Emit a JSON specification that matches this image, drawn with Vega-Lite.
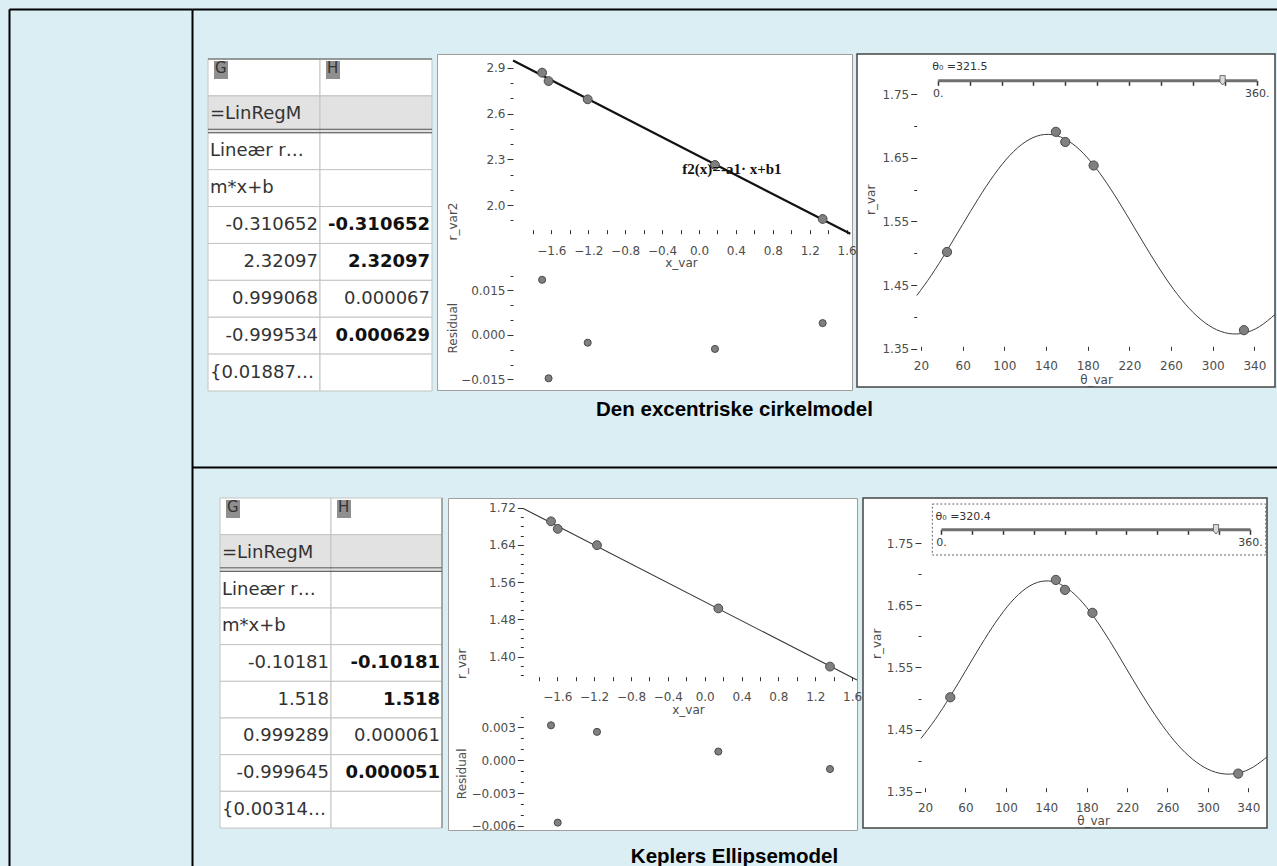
{
  "$schema": "https://vega.github.io/schema/vega-lite/v6.json",
  "background": "#DAEEF3",
  "padding": {"left": 9, "top": 9, "right": 0, "bottom": 0},
  "config": {
    "view": {"stroke": null},
    "axis": {"grid": false, "minExtent": 0, "labelFont": "DejaVu Sans", "titleFont": "DejaVu Sans"},
    "text": {"font": "DejaVu Sans"}
  },
  "spacing": 0,
  "hconcat": [
    {
      "width": 183, "height": 857,
      "data": {"values": [{"v": 0}]},
      "resolve": {"scale": {"y": "independent"}, "axis": {"y": "independent"}},
      "layer": [
        {"mark": {"type": "point", "opacity": 0},
         "encoding": {
           "x": {"field": "v", "type": "quantitative", "axis": {"orient": "top", "domainColor": "#000000", "domainWidth": 2, "ticks": false, "labels": false, "title": null}},
           "y": {"field": "v", "type": "quantitative", "axis": {"orient": "left", "domainColor": "#000000", "domainWidth": 2, "ticks": false, "labels": false, "title": null}}}},
        {"mark": {"type": "point", "opacity": 0},
         "encoding": {
           "y": {"field": "v", "type": "quantitative", "axis": {"orient": "right", "domainColor": "#000000", "domainWidth": 2, "ticks": false, "labels": false, "title": null}}}}
      ]
    },
    {
      "spacing": 0,
      "vconcat": [
        {"width": 1085, "height": 44, "data": {"values": [{"v": 0}]}, "mark": {"type": "point", "opacity": 0},
         "encoding": {"x": {"field": "v", "type": "quantitative", "axis": {"orient": "top", "domainColor": "#000000", "domainWidth": 2, "ticks": false, "labels": false, "title": null}}}},
        {
          "spacing": 5,
          "bounds": "flush",
          "hconcat": [
            {"width": 11, "height": 10, "data": {"values": [{}]}, "mark": {"type": "point", "opacity": 0}, "encoding": {}},
            {
              "width": 224, "height": 337,
              "data": {"values": [
                {"r": 0, "c": "G", "t": "G"}, {"r": 0, "c": "H", "t": "H"},
                {"r": 1, "c": "G", "t": "=LinRegM"}, {"r": 1, "c": "H", "t": ""},
                {"r": 2, "c": "G", "t": "Lineær r…"}, {"r": 2, "c": "H", "t": ""},
                {"r": 3, "c": "G", "t": "m*x+b"}, {"r": 3, "c": "H", "t": ""},
                {"r": 4, "c": "G", "t": "-0.310652"}, {"r": 4, "c": "H", "t": "-0.310652"},
                {"r": 5, "c": "G", "t": "2.32097"}, {"r": 5, "c": "H", "t": "2.32097"},
                {"r": 6, "c": "G", "t": "0.999068"}, {"r": 6, "c": "H", "t": "0.000067"},
                {"r": 7, "c": "G", "t": "-0.999534"}, {"r": 7, "c": "H", "t": "0.000629"},
                {"r": 8, "c": "G", "t": "{0.01887…"}, {"r": 8, "c": "H", "t": ""}
              ]},
              "layer": [
                {"mark": {"type": "rect", "stroke": "#C4C4C4", "strokeWidth": 1},
                 "encoding": {
                   "x": {"field": "c", "type": "nominal", "scale": {"domain": ["G", "H"], "paddingInner": 0, "paddingOuter": 0}, "axis": null},
                   "y": {"field": "r", "type": "ordinal", "scale": {"domain": [0, 1, 2, 3, 4, 5, 6, 7, 8], "paddingInner": 0, "paddingOuter": 0.0678, "align": 1}, "axis": null},
                   "fill": {"condition": {"test": "datum.r == 1", "value": "#E2E2E2"}, "value": "#FFFFFF"}}},
                {"transform": [{"filter": "datum.r == 0"}],
                 "mark": {"type": "point", "shape": "M-0.7,-0.9L0.7,-0.9L0.7,0.9L-0.7,0.9Z", "size": 400, "filled": true, "color": "#8F8F8F", "opacity": 1, "xOffset": 13, "yOffset": 11},
                 "encoding": {"x": {"field": "c", "type": "nominal", "bandPosition": 0}, "y": {"field": "r", "type": "ordinal", "bandPosition": 0}}},
                {"transform": [{"filter": "datum.r == 0"}],
                 "mark": {"type": "text", "align": "left", "baseline": "middle", "dx": 7, "dy": 9, "fontSize": 15, "color": "#333333"},
                 "encoding": {"x": {"field": "c", "type": "nominal", "bandPosition": 0}, "y": {"field": "r", "type": "ordinal", "bandPosition": 0}, "text": {"field": "t"}}},
                {"transform": [{"filter": "datum.c == 'G' && datum.r >= 1 && (datum.r <= 3 || datum.r == 8)"}],
                 "mark": {"type": "text", "align": "left", "baseline": "middle", "dx": 2, "fontSize": 18, "color": "#333333"},
                 "encoding": {"x": {"field": "c", "type": "nominal", "bandPosition": 0}, "y": {"field": "r", "type": "ordinal", "bandPosition": 0.5}, "text": {"field": "t"}}},
                {"transform": [{"filter": "datum.c == 'G' && datum.r >= 4 && datum.r <= 7"}],
                 "mark": {"type": "text", "align": "right", "baseline": "middle", "dx": -2, "fontSize": 18, "color": "#333333"},
                 "encoding": {"x": {"field": "c", "type": "nominal", "bandPosition": 1}, "y": {"field": "r", "type": "ordinal", "bandPosition": 0.5}, "text": {"field": "t"}}},
                {"transform": [{"filter": "datum.c == 'H' && (datum.r == 4 || datum.r == 5 || datum.r == 7)"}],
                 "mark": {"type": "text", "align": "right", "baseline": "middle", "dx": -2, "fontSize": 18, "fontWeight": "bold", "color": "#111111"},
                 "encoding": {"x": {"field": "c", "type": "nominal", "bandPosition": 1}, "y": {"field": "r", "type": "ordinal", "bandPosition": 0.5}, "text": {"field": "t"}}},
                {"transform": [{"filter": "datum.c == 'H' && datum.r == 6"}],
                 "mark": {"type": "text", "align": "right", "baseline": "middle", "dx": -2, "fontSize": 18, "color": "#333333"},
                 "encoding": {"x": {"field": "c", "type": "nominal", "bandPosition": 1}, "y": {"field": "r", "type": "ordinal", "bandPosition": 0.5}, "text": {"field": "t"}}},
                {"transform": [{"filter": "datum.r == 2 && datum.c == 'G'"}],
                 "mark": {"type": "rule", "color": "#555555", "strokeWidth": 1, "yOffset": -3.5},
                 "encoding": {"y": {"field": "r", "type": "ordinal", "bandPosition": 0}}},
                {"transform": [{"filter": "datum.r == 2 && datum.c == 'G'"}],
                 "mark": {"type": "rule", "color": "#555555", "strokeWidth": 1},
                 "encoding": {"y": {"field": "r", "type": "ordinal", "bandPosition": 0}}},
                {"transform": [{"filter": "datum.r == 0 && datum.c == 'G'"}],
                 "mark": {"type": "rule", "color": "#555555", "strokeWidth": 1},
                 "encoding": {"y": {"field": "r", "type": "ordinal", "bandPosition": 0}}}
              ]
            },
            {
              "width": 415, "height": 336,
              "view": {"fill": "#FFFFFF", "stroke": "#9E9E9E", "strokeWidth": 1},
              "resolve": {"scale": {"x": "independent", "y": "independent"}, "axis": {"x": "independent", "y": "independent"}},
              "layer": [
                {
                  "data": {"values": [{"x": -1.70, "y": 2.8677}, {"x": -1.63, "y": 2.8127}, {"x": -1.206, "y": 2.6930}, {"x": 0.173, "y": 2.2625}, {"x": 1.34, "y": 1.9087}]},
                  "encoding": {
                    "x": {"field": "x", "type": "quantitative", "scale": {"domain": [-2.839, 1.658], "nice": false, "zero": false}},
                    "y": {"field": "y", "type": "quantitative", "scale": {"domain": [0.788, 2.990], "nice": false, "zero": false}}
                  },
                  "layer": [
                    {"data": {"values": [{}]}, "mark": {"type": "rule", "color": "#2E2E2E", "strokeWidth": 1.5},
                     "encoding": {"x": {"datum": -2.839}, "x2": {"datum": 1.658}, "y": {"datum": 2.987}}},
                    {"data": {"values": [{}]}, "mark": {"type": "rule", "color": "#9A9A9A", "strokeWidth": 1},
                     "encoding": {"x": {"datum": 0}, "y": {"datum": 1.812}, "y2": {"datum": 2.957}}},
                    {"data": {"values": [{}]}, "mark": {"type": "rule", "color": "#333333", "strokeWidth": 1},
                     "encoding": {"x": {"datum": -2.015}, "y": {"datum": 1.812}, "y2": {"datum": 2.957}}},
                    {"data": {"values": [{}]}, "mark": {"type": "rule", "color": "#333333", "strokeWidth": 1},
                     "encoding": {"x": {"datum": -2.015}, "x2": {"datum": 1.658}, "y": {"datum": 1.812}}},
                    {"data": {"values": [{"x": -2.015, "y": 2.947}, {"x": 1.64, "y": 1.8115}]},
                     "mark": {"type": "line", "color": "#111111", "strokeWidth": 2.2}},
                    {"mark": {"type": "circle", "size": 78, "color": "#808080", "opacity": 1, "stroke": "#4A4A4A", "strokeWidth": 1},
                     "encoding": {
                       "x": {"field": "x", "type": "quantitative", "scale": {"domain": [-2.839, 1.658], "nice": false, "zero": false},
                             "axis": {"orient": "bottom", "offset": -156.3, "values": [-1.6, -1.2, -0.8, -0.4, 0, 0.4, 0.8, 1.2, 1.6],
                                      "format": ".1f", "domain": false, "tickSize": -4, "tickColor": "#333333", "labelColor": "#4D4D4D", "labelFontSize": 12, "labelPadding": 16,
                                      "labelFlush": false, "labelOverlap": false, "labelBound": false,
                                      "title": "x_var", "titleX": 244, "titleY": 29, "titleBaseline": "middle", "titleAlign": "center", "titleFontSize": 12, "titleFontWeight": "normal", "titleColor": "#4D4D4D"}},
                       "y": {"field": "y", "type": "quantitative", "scale": {"domain": [0.788, 2.990], "nice": false, "zero": false},
                             "axis": {"orient": "left", "offset": -76, "values": [2, 2.3, 2.6, 2.9],
                                      "format": ".1f", "domain": false, "tickSize": 6,
                                      "tickColor": "#333333", "labelColor": "#4D4D4D", "labelFontSize": 12, "labelPadding": 2, "labelOverlap": false, "labelFlush": false,
                                      "title": "r_var2", "titleX": -61, "titleY": 167, "titleAngle": 270, "titleBaseline": "middle", "titleAlign": "center", "titleFontSize": 12, "titleFontWeight": "normal", "titleColor": "#4D4D4D"}}
                     }},
                    {"data": {"values": [{"x": 0.357, "y": 2.236, "label": "f2(x)=-a1· x+b1"}]},
                     "mark": {"type": "text", "font": "Liberation Serif", "fontWeight": "bold", "fontSize": 15, "color": "#111111", "align": "center", "baseline": "middle"},
                     "encoding": {"x": {"field": "x", "type": "quantitative"}, "y": {"field": "y", "type": "quantitative"}, "text": {"field": "label", "type": "nominal"}}}
                  ]
                },
                {
                  "data": {"values": [{"x": -1.70, "y": 0.0186}, {"x": -1.63, "y": -0.0146}, {"x": -1.206, "y": -0.0026}, {"x": 0.173, "y": -0.0047}, {"x": 1.34, "y": 0.0040}]},
                  "encoding": {
                    "x": {"field": "x", "type": "quantitative", "scale": {"domain": [-2.839, 1.658], "nice": false, "zero": false}, "axis": null},
                    "y": {"field": "y", "type": "quantitative", "scale": {"domain": [-0.01854, 0.0947], "nice": false, "zero": false}}
                  },
                  "layer": [
                    {"data": {"values": [{}]}, "mark": {"type": "rule", "color": "#9A9A9A", "strokeWidth": 1},
                     "encoding": {"x": {"datum": 0, "axis": null}, "y": {"datum": -0.01854}, "y2": {"datum": 0.0227}}},
                    {"data": {"values": [{}]}, "mark": {"type": "rule", "color": "#A8A8A8", "strokeWidth": 1.5},
                     "encoding": {"x": {"datum": -2.015, "axis": null}, "x2": {"datum": 1.658}, "y": {"datum": 0}}},
                    {"data": {"values": [{}]}, "mark": {"type": "rule", "color": "#333333", "strokeWidth": 1},
                     "encoding": {"x": {"datum": -2.015, "axis": null}, "y": {"datum": -0.01854}, "y2": {"datum": 0.0227}}},
                    {"mark": {"type": "circle", "size": 50, "color": "#808080", "opacity": 1, "stroke": "#4A4A4A", "strokeWidth": 1},
                     "encoding": {
                       "x": {"field": "x", "type": "quantitative", "axis": null},
                       "y": {"field": "y", "type": "quantitative", "scale": {"domain": [-0.01854, 0.0947], "nice": false, "zero": false},
                             "axis": {"orient": "left", "offset": -76, "values": [-0.015, 0, 0.015],
                                      "format": ".3f", "domain": false, "tickSize": 6,
                                      "tickColor": "#333333", "labelColor": "#4D4D4D", "labelFontSize": 12, "labelPadding": 2, "labelOverlap": false, "labelFlush": false,
                                      "title": "Residual", "titleX": -61, "titleY": 273.7, "titleAngle": 270, "titleBaseline": "middle", "titleAlign": "center", "titleFontSize": 12, "titleFontWeight": "normal", "titleColor": "#4D4D4D"}}
                     }}
                  ]
                },
                {
                  "data": {"values": [{}]},
                  "mark": {"type": "point", "opacity": 0},
                  "encoding": {
                    "x": {"datum": 0, "scale": {"domain": [-2.839, 1.658], "nice": false, "zero": false},
                          "axis": {"orient": "bottom", "offset": -156.3, "values": [-1.8, -1.4, -1, -0.6, -0.2, 0.2, 0.6, 1, 1.4], "labels": false, "domain": false, "tickSize": -4, "tickColor": "#333333", "title": null}},
                    "y": {"datum": 2, "scale": {"domain": [0.788, 2.990], "nice": false, "zero": false},
                          "axis": {"orient": "left", "offset": -76, "values": [1.9, 2.1, 2.2, 2.4, 2.5, 2.7, 2.8], "labels": false, "domain": false, "tickSize": 3, "tickColor": "#333333", "title": null}}
                  }
                },
                {
                  "data": {"values": [{}]},
                  "mark": {"type": "point", "opacity": 0},
                  "encoding": {
                    "x": {"datum": 0, "scale": {"domain": [-2.839, 1.658], "nice": false, "zero": false}, "axis": null},
                    "y": {"datum": 0, "scale": {"domain": [-0.01854, 0.0947], "nice": false, "zero": false},
                          "axis": {"orient": "left", "offset": -76, "values": [-0.01, -0.005, 0.005, 0.01, 0.02], "labels": false, "domain": false, "tickSize": 3, "tickColor": "#333333", "title": null}}
                  }
                }
              ]
            },
            {
              "width": 418, "height": 333,
              "view": {"fill": "#FFFFFF", "stroke": "#444444", "strokeWidth": 1.5},
              "resolve": {"scale": {"x": "independent"}, "axis": {"x": "independent"}},
              "layer": [
                {
                  "data": {"values": [{"x": 45, "y": 1.502}, {"x": 149.5, "y": 1.691}, {"x": 158.5, "y": 1.675}, {"x": 185.7, "y": 1.638}, {"x": 330, "y": 1.379}]},
                  "encoding": {
                    "x": {"field": "x", "type": "quantitative", "scale": {"domain": [-41.4, 359.8], "nice": false, "zero": false}},
                    "y": {"field": "y", "type": "quantitative", "scale": {"domain": [1.2896, 1.8134], "nice": false, "zero": false}}
                  },
                  "layer": [
                    {"data": {"values": [{}]}, "mark": {"type": "rule", "color": "#333333", "strokeWidth": 1},
                     "encoding": {"x": {"datum": 15.9}, "y": {"datum": 1.3474}, "y2": {"datum": 1.802}}},
                    {"data": {"values": [{}]}, "mark": {"type": "rule", "color": "#333333", "strokeWidth": 1},
                     "encoding": {"x": {"datum": 15.9}, "x2": {"datum": 359.8}, "y": {"datum": 1.3474}}},
                    {"data": {"values": [
                      {"x": 16, "y": 1.4335}, {"x": 30, "y": 1.4655}, {"x": 45, "y": 1.5043}, {"x": 60, "y": 1.5453}, {"x": 75, "y": 1.5858},
                      {"x": 90, "y": 1.6228}, {"x": 105, "y": 1.6534}, {"x": 120, "y": 1.6750}, {"x": 135, "y": 1.6859}, {"x": 150, "y": 1.6851},
                      {"x": 165, "y": 1.6727}, {"x": 180, "y": 1.6498}, {"x": 195, "y": 1.6182}, {"x": 210, "y": 1.5806}, {"x": 225, "y": 1.5398},
                      {"x": 240, "y": 1.4989}, {"x": 255, "y": 1.4606}, {"x": 270, "y": 1.4273}, {"x": 285, "y": 1.4009}, {"x": 300, "y": 1.3828},
                      {"x": 315, "y": 1.3739}, {"x": 330, "y": 1.3745}, {"x": 345, "y": 1.3847}, {"x": 360, "y": 1.4040}
                    ]},
                     "mark": {"type": "line", "color": "#3C3C3C", "strokeWidth": 1, "interpolate": "natural", "clip": true}},
                    {"mark": {"type": "circle", "size": 85, "color": "#808080", "opacity": 1, "stroke": "#4A4A4A", "strokeWidth": 1},
                     "encoding": {
                       "x": {"field": "x", "type": "quantitative", "scale": {"domain": [-41.4, 359.8], "nice": false, "zero": false},
                             "axis": {"orient": "bottom", "offset": -36.7, "values": [20, 40, 60, 80, 100, 120, 140, 160, 180, 200, 220, 240, 260, 280, 300, 320, 340],
                                      "labelExpr": "(round(datum.value) - 20) % 40 == 0 ? datum.label : ''",
                                      "domain": false, "tickSize": -4, "tickColor": "#333333", "labelColor": "#4D4D4D", "labelFontSize": 12, "labelPadding": 14,
                                      "labelFlush": false, "labelOverlap": false, "labelBound": false,
                                      "title": "θ_var", "titleX": 239, "titleY": 29.5, "titleBaseline": "middle", "titleAlign": "center", "titleFontSize": 12, "titleFontWeight": "normal", "titleColor": "#4D4D4D"}},
                       "y": {"field": "y", "type": "quantitative", "scale": {"domain": [1.2896, 1.8134], "nice": false, "zero": false},
                             "axis": {"orient": "left", "offset": -59.7, "values": [1.35, 1.4, 1.45, 1.5, 1.55, 1.6, 1.65, 1.7, 1.75],
                                      "format": ".2f", "labelExpr": "round(datum.value*100) % 10 == 5 ? datum.label : ''",
                                      "domain": false, "tickSize": {"condition": {"test": "round(datum.value*100) % 10 == 5", "value": 6}, "value": 3},
                                      "tickColor": "#333333", "labelColor": "#4D4D4D", "labelFontSize": 12, "labelPadding": 2, "labelOverlap": false, "labelFlush": false,
                                      "title": "r_var", "titleX": -46.7, "titleY": 145.3, "titleAngle": 270, "titleBaseline": "middle", "titleAlign": "center", "titleFontSize": 12, "titleFontWeight": "normal", "titleColor": "#4D4D4D"}}
                     }}
                  ]
                },
                {
                  "data": {"values": [{"s": 321.5}]},
                  "mark": {"type": "point", "shape": "M-0.55,-1L0.55,-1L0.55,0.35L0,1L-0.55,0.35Z", "size": 90, "filled": true, "fill": "#DADADA", "stroke": "#505050", "strokeWidth": 0.8, "opacity": 1},
                  "encoding": {
                    "x": {"field": "s", "type": "quantitative", "scale": {"domain": [0, 360], "range": [80.7, 399.7], "nice": false, "zero": false},
                          "axis": {"orient": "bottom", "offset": -306.7, "values": [0, 36, 72, 108, 144, 180, 216, 252, 288, 324, 360],
                                   "labelExpr": "datum.value == 0 ? '0.' : (datum.value == 360 ? '360.' : '')",
                                   "domain": true, "domainColor": "#707070", "domainWidth": 3, "tickColor": "#333333", "tickSize": 5, "tickWidth": 1.5,
                                   "labelFontSize": 11, "labelColor": "#404040", "labelPadding": 2, "labelFlush": false, "labelOverlap": false, "labelBound": false,
                                   "title": "θ₀ =321.5", "titleX": 74.7, "titleY": -14.3, "titleAlign": "left", "titleAnchor": "start", "titleBaseline": "middle", "titleFontSize": 11, "titleFontWeight": "normal", "titleColor": "#333333"}},
                    "y": {"datum": 1.772}
                  }
                }
              ]
            }
          ]
        },
        {"width": 1085, "height": 75, "data": {"values": [{"caption": "Den excentriske cirkelmodel"}]},
         "mark": {"type": "text", "font": "Liberation Sans", "fontWeight": "bold", "fontSize": 20.5, "color": "#000000", "dy": -20},
         "encoding": {"text": {"field": "caption"}}},
        {"width": 1085, "height": 30, "data": {"values": [{"v": 0}]}, "mark": {"type": "point", "opacity": 0},
         "encoding": {"x": {"field": "v", "type": "quantitative", "axis": {"orient": "top", "domainColor": "#000000", "domainWidth": 2, "ticks": false, "labels": false, "title": null}}}},
        {
          "spacing": 6,
          "bounds": "flush",
          "hconcat": [
            {"width": 22, "height": 10, "data": {"values": [{}]}, "mark": {"type": "point", "opacity": 0}, "encoding": {}},
            {
              "width": 222, "height": 330,
              "data": {"values": [
                {"r": 0, "c": "G", "t": "G"}, {"r": 0, "c": "H", "t": "H"},
                {"r": 1, "c": "G", "t": "=LinRegM"}, {"r": 1, "c": "H", "t": ""},
                {"r": 2, "c": "G", "t": "Lineær r…"}, {"r": 2, "c": "H", "t": ""},
                {"r": 3, "c": "G", "t": "m*x+b"}, {"r": 3, "c": "H", "t": ""},
                {"r": 4, "c": "G", "t": "-0.10181"}, {"r": 4, "c": "H", "t": "-0.10181"},
                {"r": 5, "c": "G", "t": "1.518"}, {"r": 5, "c": "H", "t": "1.518"},
                {"r": 6, "c": "G", "t": "0.999289"}, {"r": 6, "c": "H", "t": "0.000061"},
                {"r": 7, "c": "G", "t": "-0.999645"}, {"r": 7, "c": "H", "t": "0.000051"},
                {"r": 8, "c": "G", "t": "{0.00314…"}, {"r": 8, "c": "H", "t": ""}
              ]},
              "layer": [
                {"mark": {"type": "rect", "stroke": "#C4C4C4", "strokeWidth": 1},
                 "encoding": {
                   "x": {"field": "c", "type": "nominal", "scale": {"domain": ["G", "H"], "paddingInner": 0, "paddingOuter": 0}, "axis": null},
                   "y": {"field": "r", "type": "ordinal", "scale": {"domain": [0, 1, 2, 3, 4, 5, 6, 7, 8], "paddingInner": 0, "paddingOuter": 0}, "axis": null},
                   "fill": {"condition": {"test": "datum.r == 1", "value": "#E2E2E2"}, "value": "#FFFFFF"}}},
                {"transform": [{"filter": "datum.r == 0"}],
                 "mark": {"type": "point", "shape": "M-0.7,-0.9L0.7,-0.9L0.7,0.9L-0.7,0.9Z", "size": 400, "filled": true, "color": "#8F8F8F", "opacity": 1, "xOffset": 13, "yOffset": 11},
                 "encoding": {"x": {"field": "c", "type": "nominal", "bandPosition": 0}, "y": {"field": "r", "type": "ordinal", "bandPosition": 0}}},
                {"transform": [{"filter": "datum.r == 0"}],
                 "mark": {"type": "text", "align": "left", "baseline": "middle", "dx": 7, "dy": 9, "fontSize": 15, "color": "#333333"},
                 "encoding": {"x": {"field": "c", "type": "nominal", "bandPosition": 0}, "y": {"field": "r", "type": "ordinal", "bandPosition": 0}, "text": {"field": "t"}}},
                {"transform": [{"filter": "datum.c == 'G' && datum.r >= 1 && (datum.r <= 3 || datum.r == 8)"}],
                 "mark": {"type": "text", "align": "left", "baseline": "middle", "dx": 2, "fontSize": 18, "color": "#333333"},
                 "encoding": {"x": {"field": "c", "type": "nominal", "bandPosition": 0}, "y": {"field": "r", "type": "ordinal", "bandPosition": 0.5}, "text": {"field": "t"}}},
                {"transform": [{"filter": "datum.c == 'G' && datum.r >= 4 && datum.r <= 7"}],
                 "mark": {"type": "text", "align": "right", "baseline": "middle", "dx": -2, "fontSize": 18, "color": "#333333"},
                 "encoding": {"x": {"field": "c", "type": "nominal", "bandPosition": 1}, "y": {"field": "r", "type": "ordinal", "bandPosition": 0.5}, "text": {"field": "t"}}},
                {"transform": [{"filter": "datum.c == 'H' && (datum.r == 4 || datum.r == 5 || datum.r == 7)"}],
                 "mark": {"type": "text", "align": "right", "baseline": "middle", "dx": -2, "fontSize": 18, "fontWeight": "bold", "color": "#111111"},
                 "encoding": {"x": {"field": "c", "type": "nominal", "bandPosition": 1}, "y": {"field": "r", "type": "ordinal", "bandPosition": 0.5}, "text": {"field": "t"}}},
                {"transform": [{"filter": "datum.c == 'H' && datum.r == 6"}],
                 "mark": {"type": "text", "align": "right", "baseline": "middle", "dx": -2, "fontSize": 18, "color": "#333333"},
                 "encoding": {"x": {"field": "c", "type": "nominal", "bandPosition": 1}, "y": {"field": "r", "type": "ordinal", "bandPosition": 0.5}, "text": {"field": "t"}}},
                {"transform": [{"filter": "datum.r == 2 && datum.c == 'G'"}],
                 "mark": {"type": "rule", "color": "#555555", "strokeWidth": 1, "yOffset": -3.5},
                 "encoding": {"y": {"field": "r", "type": "ordinal", "bandPosition": 0}}},
                {"transform": [{"filter": "datum.r == 2 && datum.c == 'G'"}],
                 "mark": {"type": "rule", "color": "#555555", "strokeWidth": 1},
                 "encoding": {"y": {"field": "r", "type": "ordinal", "bandPosition": 0}}},
                {"transform": [{"filter": "datum.r == 0 && datum.c == 'H'"}],
                 "mark": {"type": "rule", "color": "#707070", "strokeWidth": 1},
                 "encoding": {"x": {"field": "c", "type": "nominal", "bandPosition": 1}}}
              ]
            },
            {
              "width": 409, "height": 332,
              "view": {"fill": "#FFFFFF", "stroke": "#9E9E9E", "strokeWidth": 1},
              "resolve": {"scale": {"x": "independent", "y": "independent"}, "axis": {"x": "independent", "y": "independent"}},
              "layer": [
                {
                  "data": {"values": [{"x": -1.668, "y": 1.6909}, {"x": -1.595, "y": 1.6747}, {"x": -1.169, "y": 1.6396}, {"x": 0.148, "y": 1.5037}, {"x": 1.36, "y": 1.3787}]},
                  "encoding": {
                    "x": {"field": "x", "type": "quantitative", "scale": {"domain": [-2.786, 1.653], "nice": false, "zero": false}},
                    "y": {"field": "y", "type": "quantitative", "scale": {"domain": [1.0275, 1.741], "nice": false, "zero": false}}
                  },
                  "layer": [
                    {"data": {"values": [{}]}, "mark": {"type": "rule", "color": "#2E2E2E", "strokeWidth": 1.5},
                     "encoding": {"x": {"datum": -2.786}, "x2": {"datum": 1.653}, "y": {"datum": 1.7330}}},
                    {"data": {"values": [{}]}, "mark": {"type": "rule", "color": "#9A9A9A", "strokeWidth": 1},
                     "encoding": {"x": {"datum": 0}, "y": {"datum": 1.3484}, "y2": {"datum": 1.725}}},
                    {"data": {"values": [{}]}, "mark": {"type": "rule", "color": "#333333", "strokeWidth": 1},
                     "encoding": {"x": {"datum": -1.969}, "y": {"datum": 1.3484}, "y2": {"datum": 1.725}}},
                    {"data": {"values": [{}]}, "mark": {"type": "rule", "color": "#333333", "strokeWidth": 1},
                     "encoding": {"x": {"datum": -1.969}, "x2": {"datum": 1.653}, "y": {"datum": 1.3484}}},
                    {"data": {"values": [{"x": -1.969, "y": 1.7185}, {"x": 1.653, "y": 1.3497}]},
                     "mark": {"type": "line", "color": "#333333", "strokeWidth": 1.1}},
                    {"mark": {"type": "circle", "size": 78, "color": "#808080", "opacity": 1, "stroke": "#4A4A4A", "strokeWidth": 1},
                     "encoding": {
                       "x": {"field": "x", "type": "quantitative", "scale": {"domain": [-2.786, 1.653], "nice": false, "zero": false},
                             "axis": {"orient": "bottom", "offset": -149.3, "values": [-1.6, -1.2, -0.8, -0.4, 0, 0.4, 0.8, 1.2, 1.6],
                                      "format": ".1f", "domain": false, "tickSize": -4, "tickColor": "#333333", "labelColor": "#4D4D4D", "labelFontSize": 12, "labelPadding": 15,
                                      "labelFlush": false, "labelOverlap": false, "labelBound": false,
                                      "title": "x_var", "titleX": 240, "titleY": 29, "titleBaseline": "middle", "titleAlign": "center", "titleFontSize": 12, "titleFontWeight": "normal", "titleColor": "#4D4D4D"}},
                       "y": {"field": "y", "type": "quantitative", "scale": {"domain": [1.0275, 1.741], "nice": false, "zero": false},
                             "axis": {"orient": "left", "offset": -75.3, "values": [1.4, 1.48, 1.56, 1.64, 1.72],
                                      "format": ".2f", "domain": false, "tickSize": 6,
                                      "tickColor": "#333333", "labelColor": "#4D4D4D", "labelFontSize": 12, "labelPadding": 2, "labelOverlap": false, "labelFlush": false,
                                      "title": "r_var", "titleX": -62.3, "titleY": 165.3, "titleAngle": 270, "titleBaseline": "middle", "titleAlign": "center", "titleFontSize": 12, "titleFontWeight": "normal", "titleColor": "#4D4D4D"}}
                     }}
                  ]
                },
                {
                  "data": {"values": [{"x": -1.668, "y": 0.0032}, {"x": -1.595, "y": -0.0057}, {"x": -1.169, "y": 0.0026}, {"x": 0.148, "y": 0.0008}, {"x": 1.36, "y": -0.0008}]},
                  "encoding": {
                    "x": {"field": "x", "type": "quantitative", "scale": {"domain": [-2.786, 1.653], "nice": false, "zero": false}, "axis": null},
                    "y": {"field": "y", "type": "quantitative", "scale": {"domain": [-0.006375, 0.02399], "nice": false, "zero": false}}
                  },
                  "layer": [
                    {"data": {"values": [{}]}, "mark": {"type": "rule", "color": "#9A9A9A", "strokeWidth": 1},
                     "encoding": {"x": {"datum": 0, "axis": null}, "y": {"datum": -0.006375}, "y2": {"datum": 0.0049}}},
                    {"data": {"values": [{}]}, "mark": {"type": "rule", "color": "#A8A8A8", "strokeWidth": 1.5},
                     "encoding": {"x": {"datum": -1.969, "axis": null}, "x2": {"datum": 1.653}, "y": {"datum": 0}}},
                    {"data": {"values": [{}]}, "mark": {"type": "rule", "color": "#333333", "strokeWidth": 1},
                     "encoding": {"x": {"datum": -1.969, "axis": null}, "y": {"datum": -0.006375}, "y2": {"datum": 0.0049}}},
                    {"mark": {"type": "circle", "size": 50, "color": "#808080", "opacity": 1, "stroke": "#4A4A4A", "strokeWidth": 1},
                     "encoding": {
                       "x": {"field": "x", "type": "quantitative", "axis": null},
                       "y": {"field": "y", "type": "quantitative", "scale": {"domain": [-0.006375, 0.02399], "nice": false, "zero": false},
                             "axis": {"orient": "left", "offset": -75.3, "values": [-0.006, -0.003, 0, 0.003],
                                      "format": ".3f", "domain": false, "tickSize": 6,
                                      "tickColor": "#333333", "labelColor": "#4D4D4D", "labelFontSize": 12, "labelPadding": 2, "labelOverlap": false, "labelFlush": false,
                                      "title": "Residual", "titleX": -62.3, "titleY": 275.3, "titleAngle": 270, "titleBaseline": "middle", "titleAlign": "center", "titleFontSize": 12, "titleFontWeight": "normal", "titleColor": "#4D4D4D"}}
                     }}
                  ]
                },
                {
                  "data": {"values": [{}]},
                  "mark": {"type": "point", "opacity": 0},
                  "encoding": {
                    "x": {"datum": 0, "scale": {"domain": [-2.786, 1.653], "nice": false, "zero": false},
                          "axis": {"orient": "bottom", "offset": -149.3, "values": [-1.8, -1.4, -1, -0.6, -0.2, 0.2, 0.6, 1, 1.4], "labels": false, "domain": false, "tickSize": -4, "tickColor": "#333333", "title": null}},
                    "y": {"datum": 1.4, "scale": {"domain": [1.0275, 1.741], "nice": false, "zero": false},
                          "axis": {"orient": "left", "offset": -75.3, "values": [1.36, 1.38, 1.42, 1.44, 1.46, 1.5, 1.52, 1.54, 1.58, 1.6, 1.62, 1.66, 1.68, 1.7], "labels": false, "domain": false, "tickSize": 3, "tickColor": "#333333", "title": null}}
                  }
                },
                {
                  "data": {"values": [{}]},
                  "mark": {"type": "point", "opacity": 0},
                  "encoding": {
                    "x": {"datum": 0, "scale": {"domain": [-2.786, 1.653], "nice": false, "zero": false}, "axis": null},
                    "y": {"datum": 0, "scale": {"domain": [-0.006375, 0.02399], "nice": false, "zero": false},
                          "axis": {"orient": "left", "offset": -75.3, "values": [-0.005, -0.004, -0.002, -0.001, 0.001, 0.002, 0.004], "labels": false, "domain": false, "tickSize": 3, "tickColor": "#333333", "title": null}}
                  }
                }
              ]
            },
            {
              "width": 404, "height": 330,
              "view": {"fill": "#FFFFFF", "stroke": "#444444", "strokeWidth": 1.5},
              "resolve": {"scale": {"x": "independent"}, "axis": {"x": "independent"}},
              "layer": [
                {
                  "data": {"values": [{"x": 45, "y": 1.502}, {"x": 149.5, "y": 1.691}, {"x": 158.5, "y": 1.675}, {"x": 185.7, "y": 1.638}, {"x": 330, "y": 1.379}]},
                  "encoding": {
                    "x": {"field": "x", "type": "quantitative", "scale": {"domain": [-41.4, 358.5], "nice": false, "zero": false}},
                    "y": {"field": "y", "type": "quantitative", "scale": {"domain": [1.2914, 1.8230], "nice": false, "zero": false}}
                  },
                  "layer": [
                    {"data": {"values": [{}]}, "mark": {"type": "rule", "color": "#333333", "strokeWidth": 1},
                     "encoding": {"x": {"datum": 16.04}, "y": {"datum": 1.3499}, "y2": {"datum": 1.8144}}},
                    {"data": {"values": [{}]}, "mark": {"type": "rule", "color": "#333333", "strokeWidth": 1},
                     "encoding": {"x": {"datum": 16.04}, "x2": {"datum": 358.5}, "y": {"datum": 1.3499}}},
                    {"data": {"values": [
                      {"x": 16, "y": 1.4357}, {"x": 30, "y": 1.4661}, {"x": 45, "y": 1.5036}, {"x": 60, "y": 1.5441}, {"x": 75, "y": 1.5850},
                      {"x": 90, "y": 1.6230}, {"x": 105, "y": 1.6549}, {"x": 120, "y": 1.6776}, {"x": 135, "y": 1.6886}, {"x": 150, "y": 1.6868},
                      {"x": 165, "y": 1.6723}, {"x": 180, "y": 1.6468}, {"x": 195, "y": 1.6128}, {"x": 210, "y": 1.5737}, {"x": 225, "y": 1.5326},
                      {"x": 240, "y": 1.4927}, {"x": 255, "y": 1.4565}, {"x": 270, "y": 1.4257}, {"x": 285, "y": 1.4020}, {"x": 300, "y": 1.3861},
                      {"x": 315, "y": 1.3787}, {"x": 330, "y": 1.3799}, {"x": 345, "y": 1.3897}, {"x": 360, "y": 1.4079}
                    ]},
                     "mark": {"type": "line", "color": "#3C3C3C", "strokeWidth": 1, "interpolate": "natural", "clip": true}},
                    {"mark": {"type": "circle", "size": 85, "color": "#808080", "opacity": 1, "stroke": "#4A4A4A", "strokeWidth": 1},
                     "encoding": {
                       "x": {"field": "x", "type": "quantitative", "scale": {"domain": [-41.4, 358.5], "nice": false, "zero": false},
                             "axis": {"orient": "bottom", "offset": -36.3, "values": [20, 40, 60, 80, 100, 120, 140, 160, 180, 200, 220, 240, 260, 280, 300, 320, 340],
                                      "labelExpr": "(round(datum.value) - 20) % 40 == 0 ? datum.label : ''",
                                      "domain": false, "tickSize": -4, "tickColor": "#333333", "labelColor": "#4D4D4D", "labelFontSize": 12, "labelPadding": 15,
                                      "labelFlush": false, "labelOverlap": false, "labelBound": false,
                                      "title": "θ_var", "titleX": 230, "titleY": 29, "titleBaseline": "middle", "titleAlign": "center", "titleFontSize": 12, "titleFontWeight": "normal", "titleColor": "#4D4D4D"}},
                       "y": {"field": "y", "type": "quantitative", "scale": {"domain": [1.2914, 1.8230], "nice": false, "zero": false},
                             "axis": {"orient": "left", "offset": -58, "values": [1.35, 1.4, 1.45, 1.5, 1.55, 1.6, 1.65, 1.7, 1.75],
                                      "format": ".2f", "labelExpr": "round(datum.value*100) % 10 == 5 ? datum.label : ''",
                                      "domain": false, "tickSize": {"condition": {"test": "round(datum.value*100) % 10 == 5", "value": 6}, "value": 3},
                                      "tickColor": "#333333", "labelColor": "#4D4D4D", "labelFontSize": 12, "labelPadding": 2, "labelOverlap": false, "labelFlush": false,
                                      "title": "r_var", "titleX": -44.3, "titleY": 145.3, "titleAngle": 270, "titleBaseline": "middle", "titleAlign": "center", "titleFontSize": 12, "titleFontWeight": "normal", "titleColor": "#4D4D4D"}}
                     }}
                  ]
                },
                {
                  "layer": [
                    {"data": {"values": [{}]},
                     "mark": {"type": "rect", "fillOpacity": 0, "stroke": "#666666", "strokeWidth": 1, "strokeDash": [2, 2]},
                     "encoding": {"x": {"datum": -10.1, "scale": {"domain": [0, 360], "range": [78, 387], "nice": false, "zero": false}}, "x2": {"datum": 378.3}, "y": {"datum": 1.8133}, "y2": {"datum": 1.7312}}},
                    {"data": {"values": [{"s": 320.4}]},
                     "mark": {"type": "point", "shape": "M-0.55,-1L0.55,-1L0.55,0.35L0,1L-0.55,0.35Z", "size": 90, "filled": true, "fill": "#DADADA", "stroke": "#505050", "strokeWidth": 0.8, "opacity": 1},
                     "encoding": {
                       "x": {"field": "s", "type": "quantitative", "scale": {"domain": [0, 360], "range": [78, 387], "nice": false, "zero": false},
                             "axis": {"orient": "bottom", "offset": -298.7, "values": [0, 36, 72, 108, 144, 180, 216, 252, 288, 324, 360],
                                      "labelExpr": "datum.value == 0 ? '0.' : (datum.value == 360 ? '360.' : '')",
                                      "domain": true, "domainColor": "#707070", "domainWidth": 3, "tickColor": "#333333", "tickSize": 5, "tickWidth": 1.5,
                                      "labelFontSize": 11, "labelColor": "#404040", "labelPadding": 2, "labelFlush": false, "labelOverlap": false, "labelBound": false,
                                      "title": "θ₀ =320.4", "titleX": 72, "titleY": -13.3, "titleAlign": "left", "titleAnchor": "start", "titleBaseline": "middle", "titleFontSize": 11, "titleFontWeight": "normal", "titleColor": "#333333"}},
                       "y": {"datum": 1.7726}
                     }}
                  ]
                }
              ]
            }
          ]
        },
        {"width": 1085, "height": 38, "data": {"values": [{"caption": "Keplers Ellipsemodel"}]},
         "mark": {"type": "text", "font": "Liberation Sans", "fontWeight": "bold", "fontSize": 20.5, "color": "#000000", "dy": 5},
         "encoding": {"text": {"field": "caption"}}}
      ]
    }
  ]
}
